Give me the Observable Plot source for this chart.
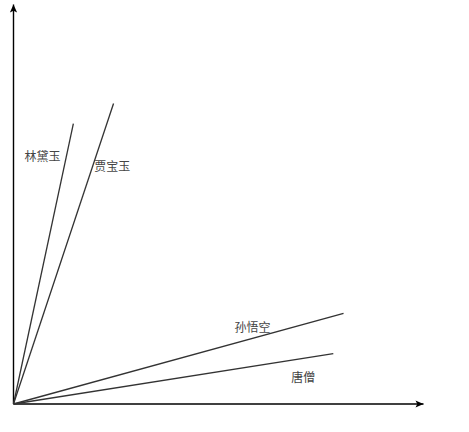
<!DOCTYPE html>
<html>
<head>
<meta charset="utf-8">
<script src="https://cdn.jsdelivr.net/npm/d3@7"></script>
<script src="https://cdn.jsdelivr.net/npm/@observablehq/plot@0.6"></script>
<style>
  html, body { margin: 0; padding: 0; background: #fff; }
</style>
</head>
<body>
<div id="chart"></div>
<script>
const names = ["林黛玉", "贾宝玉", "孙悟空", "唐僧"];
const endX = [14.6, 24.4, 80.5, 78.0];
const endY = [70.2, 75.2, 22.7, 12.6];
const labelX = [7.1, 24.1, 58.3, 70.7];
const labelY = [61.7, 59.2, 19.1, 6.4];
const axisMax = 100;

const rows = names.map((n, i) => ({name: n, x: endX[i], y: endY[i], lx: labelX[i], ly: labelY[i]}));

const stealth = {
  draw(context) {
    context.moveTo(0, 0);
    context.lineTo(3.6, 8);
    context.lineTo(0, 6.2);
    context.lineTo(-3.6, 8);
    context.closePath();
  }
};

const chart = Plot.plot({
  width: 469,
  height: 432,
  marginLeft: 13,
  marginRight: 46,
  marginTop: 4,
  marginBottom: 28.5,
  x: {domain: [0, axisMax], axis: null},
  y: {domain: [0, axisMax], axis: null},
  style: {background: "#fff", fontFamily: "'Noto Sans CJK SC', sans-serif"},
  marks: [
    Plot.link([{a: 0}], {x1: 0, y1: 0, x2: axisMax, y2: 0, stroke: "#000", strokeWidth: 1.4}),
    Plot.link([{a: 0}], {x1: 0, y1: 0, x2: 0, y2: axisMax, stroke: "#000", strokeWidth: 1.4}),
    Plot.dot([{a: 0}], {x: 0, y: axisMax, symbol: stealth, fill: "#000", stroke: "none"}),
    Plot.dot([{a: 0}], {x: axisMax, y: 0, symbol: stealth, rotate: 90, fill: "#000", stroke: "none"}),
    Plot.link(rows, {x1: 0, y1: 0, x2: "x", y2: "y", stroke: "#333", strokeWidth: 1.3}),
    Plot.text(rows, {x: "lx", y: "ly", text: "name", fontSize: 12, fill: "#444"})
  ]
});
document.getElementById("chart").appendChild(chart);
</script>
</body>
</html>
